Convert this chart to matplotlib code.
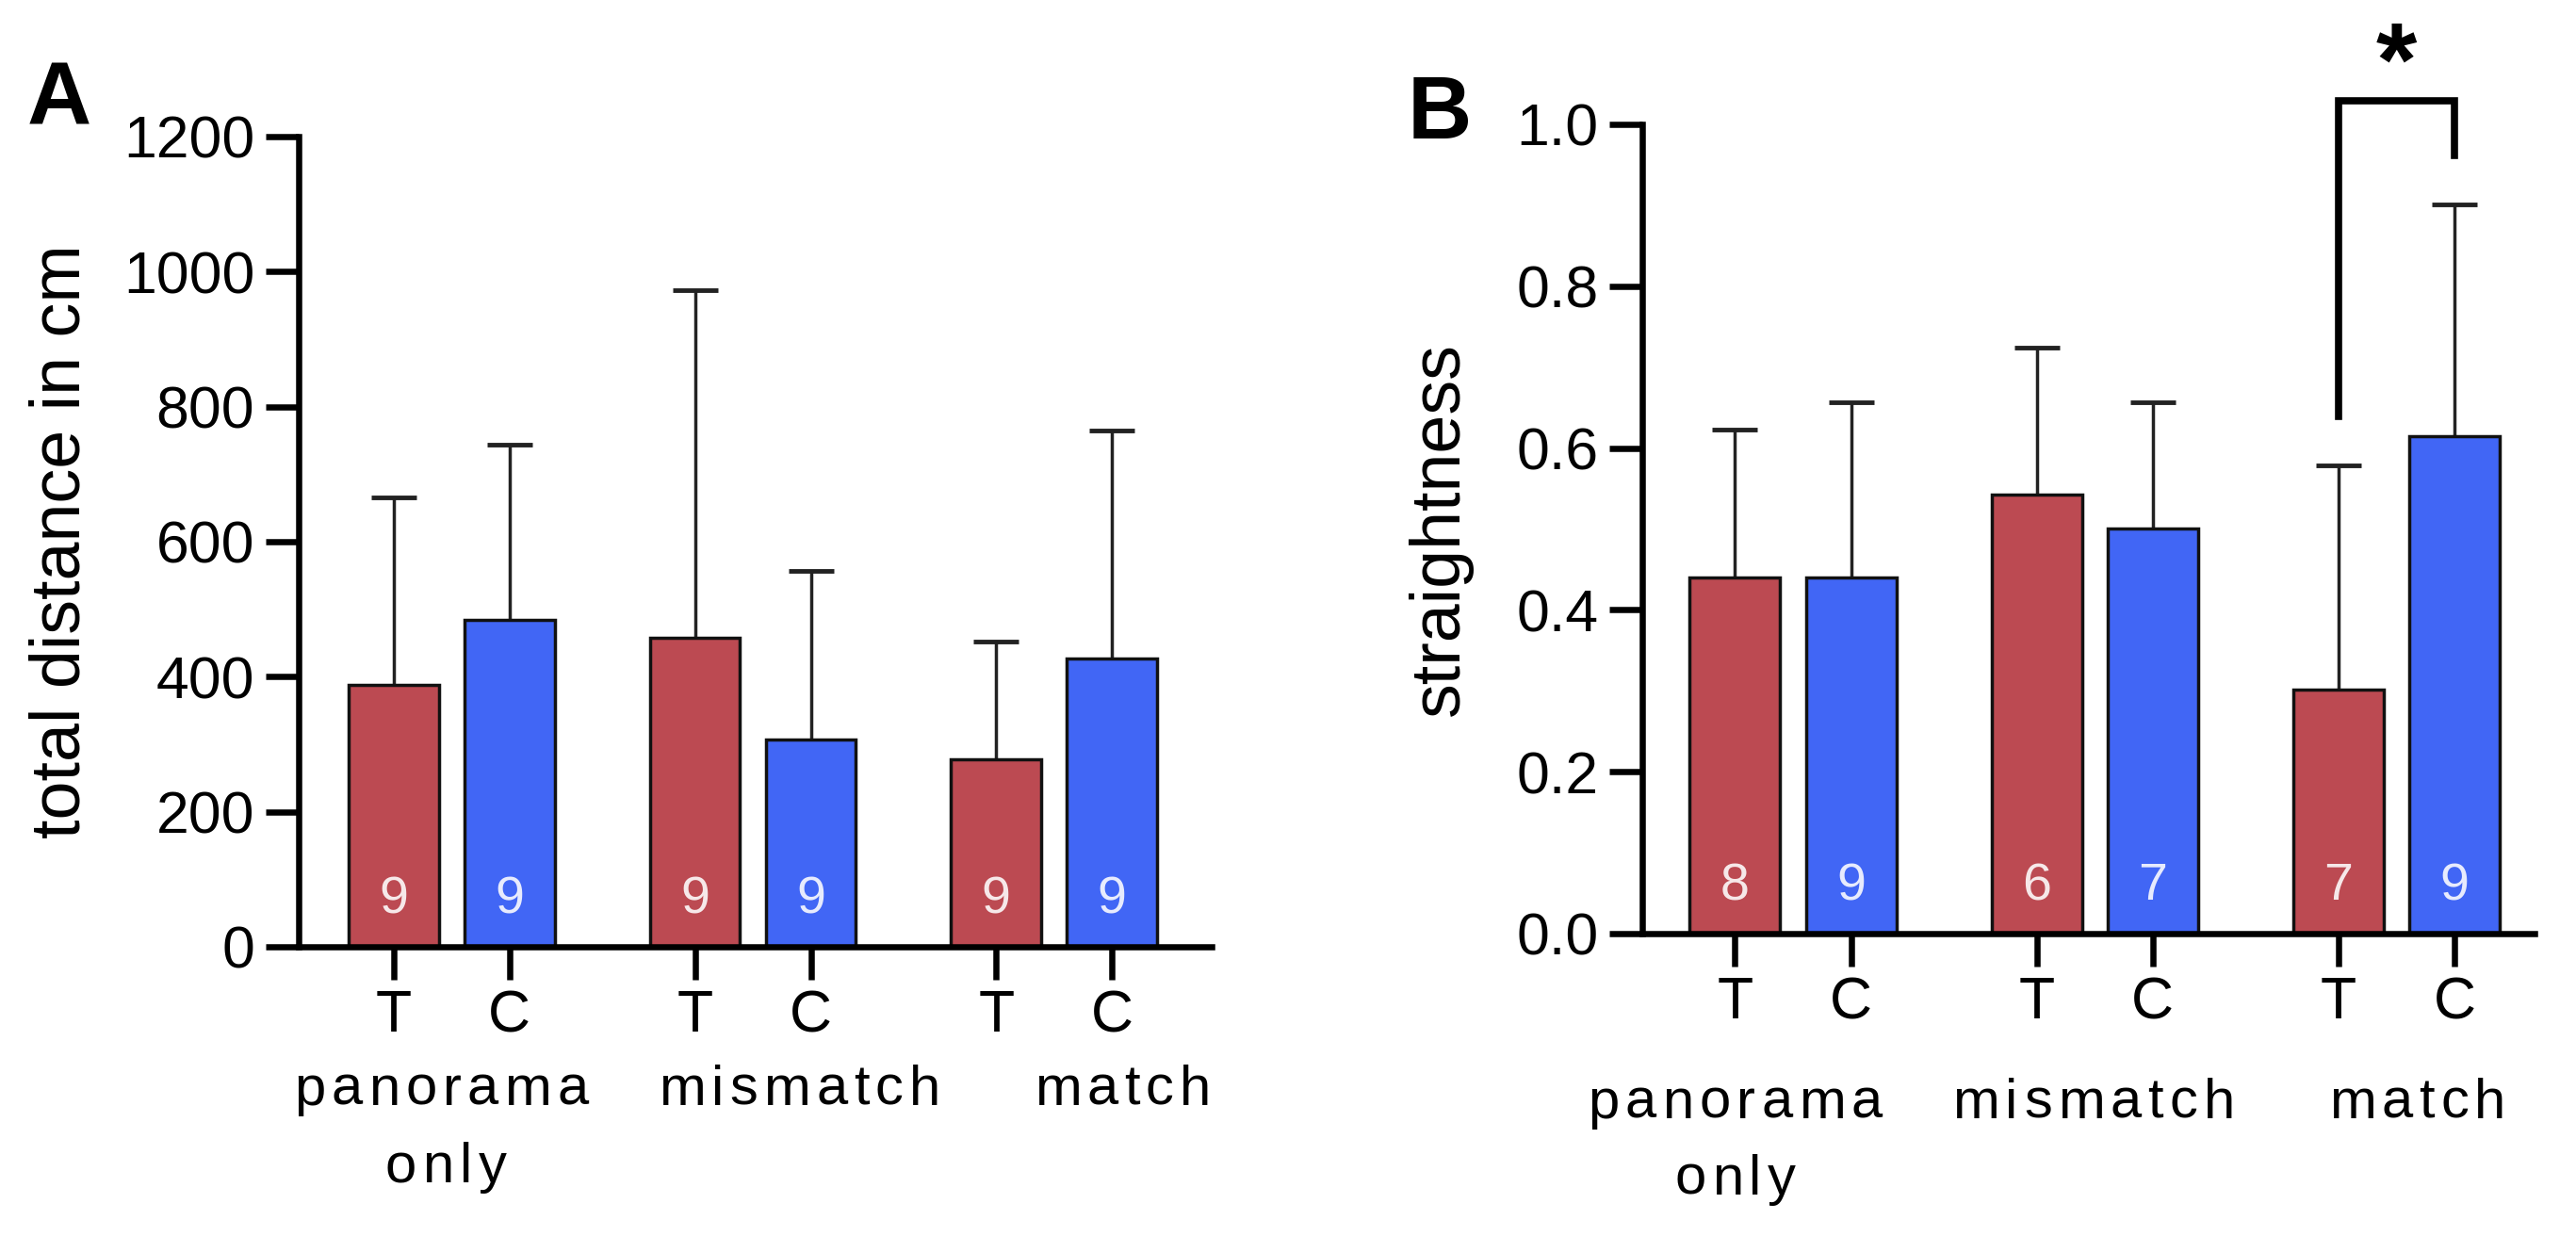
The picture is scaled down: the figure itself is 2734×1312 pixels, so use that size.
import matplotlib
matplotlib.use('Agg')
import matplotlib.pyplot as plt
import matplotlib.transforms as mtrans
from matplotlib.font_manager import findfont, FontProperties
from matplotlib.ft2font import FT2Font

plt.rcParams['font.family'] = ['Liberation Sans', 'DejaVu Sans']

# data
tick_labels = ['T', 'C', 'T', 'C', 'T', 'C']
dist_mean = [388, 484, 457, 307, 278, 427]
dist_upper = [665, 743, 972, 557, 452, 765]
dist_n = [9, 9, 9, 9, 9, 9]
straight_mean = [0.44, 0.44, 0.542, 0.50, 0.302, 0.615]
straight_upper = [0.623, 0.656, 0.724, 0.656, 0.578, 0.901]
straight_n = [8, 9, 6, 7, 7, 9]
sig_pair = (4, 5)          # T vs C in "match", panel B
sig_bracket = (1.029, 0.639, 0.962)   # top, left foot, right foot

red = '#BC4A52'
blue = '#4166F5'
colors = [red, blue] * 3
xpos = [0, 1, 2.6, 3.6, 5.2, 6.2]

fig = plt.figure(figsize=(27.34, 13.12), dpi=100)
axA = fig.add_axes([0.1159, 0.234, 0.3545, 0.6555])
axB = fig.add_axes([0.6375, 0.2447, 0.3464, 0.6547])

_font = FT2Font(findfont(FontProperties(family='Liberation Sans')))


def spaced(ax, x, y, word, size=43, gap=4.5):
    # GraphPad spreads its letters out, so place them one at a time
    _font.set_size(size, 72)
    adv = [_font.load_char(ord(c)).linearHoriAdvance / 65536 for c in word]
    total = sum(adv) + gap * (len(word) - 1)
    base = mtrans.blended_transform_factory(ax.transData, ax.transAxes)
    off = -total / 2
    for c, w in zip(word, adv):
        tr = base + mtrans.ScaledTranslation(off / 72, 0, fig.dpi_scale_trans)
        ax.text(x, y, c, transform=tr, fontsize=size, ha='left', va='baseline',
                clip_on=False)
        off += w + gap


def panel(ax, means, uppers, ns, ylim, yticks, ylabel, xlim):
    ax.bar(xpos, means, width=0.78, color=colors, edgecolor='#111111',
           linewidth=2.5, zorder=2)
    err = [[0] * len(means), [u - m for u, m in zip(uppers, means)]]
    _, caps, _ = ax.errorbar(xpos, means, yerr=err, fmt='none', ecolor='#222222',
                             elinewidth=2.5, capsize=17, capthick=3.5, zorder=1)
    caps[0].set_visible(False)
    ntr = mtrans.blended_transform_factory(ax.transData, ax.transAxes)
    for x, n in zip(xpos, ns):
        ax.text(x, 0.058, str(n), transform=ntr, ha='center', va='center',
                fontsize=40, color='white', alpha=0.88, zorder=4)
    ax.set_xlim(*xlim)
    ax.set_ylim(*ylim)
    ax.set_yticks(yticks)
    ax.set_xticks(xpos)
    ax.set_xticklabels(tick_labels)
    ax.spines['top'].set_visible(False)
    ax.spines['right'].set_visible(False)
    for s in ('left', 'bottom'):
        ax.spines[s].set_linewidth(4.7)
    ax.tick_params(axis='both', length=25, width=4.7, labelsize=45)
    ax.tick_params(axis='y', pad=8.6)
    ax.tick_params(axis='x', pad=7)
    ax.set_ylabel(ylabel, fontsize=53, va='baseline')


panel(axA, dist_mean, dist_upper, dist_n, (0, 1200), range(0, 1201, 200),
      'total distance in cm', (-0.82, 7.06))
axA.yaxis.set_label_coords(-0.240, 0.5)

panel(axB, straight_mean, straight_upper, straight_n, (0, 1.0),
      [0, 0.2, 0.4, 0.6, 0.8, 1.0], 'straightness', (-0.80, 6.89))
axB.set_yticklabels(['0.0', '0.2', '0.4', '0.6', '0.8', '1.0'])
axB.yaxis.set_label_coords(-0.206, 0.5)

# group names under the T/C ticks
spaced(axA, 0.41, -0.195, 'panorama')
spaced(axA, 0.45, -0.291, 'only')
spaced(axA, 3.5, -0.195, 'mismatch')
spaced(axA, 6.29, -0.195, 'match')
spaced(axB, 0.0, -0.228, 'panorama')
spaced(axB, 0.0, -0.322, 'only')
spaced(axB, 3.09, -0.228, 'mismatch')
spaced(axB, 5.88, -0.228, 'match')

# significance bracket
xl, xr = xpos[sig_pair[0]], xpos[sig_pair[1]]
top, foot_l, foot_r = sig_bracket
axB.plot([xl, xl, xr, xr], [foot_l, top, top, foot_r], color='black',
         linewidth=5.5, solid_joinstyle='miter', clip_on=False)
axB.text((xl + xr) / 2, top + 0.04, '*', ha='center', va='center',
         fontsize=80, fontweight='bold', clip_on=False)

fig.text(63 / 2734, 1 - 133 / 1312, 'A', fontsize=68, fontweight='bold',
         ha='center', va='baseline')
fig.text(1528 / 2734, 1 - 147 / 1312, 'B', fontsize=68, fontweight='bold',
         ha='center', va='baseline')

fig.savefig('out.png', dpi=100)
